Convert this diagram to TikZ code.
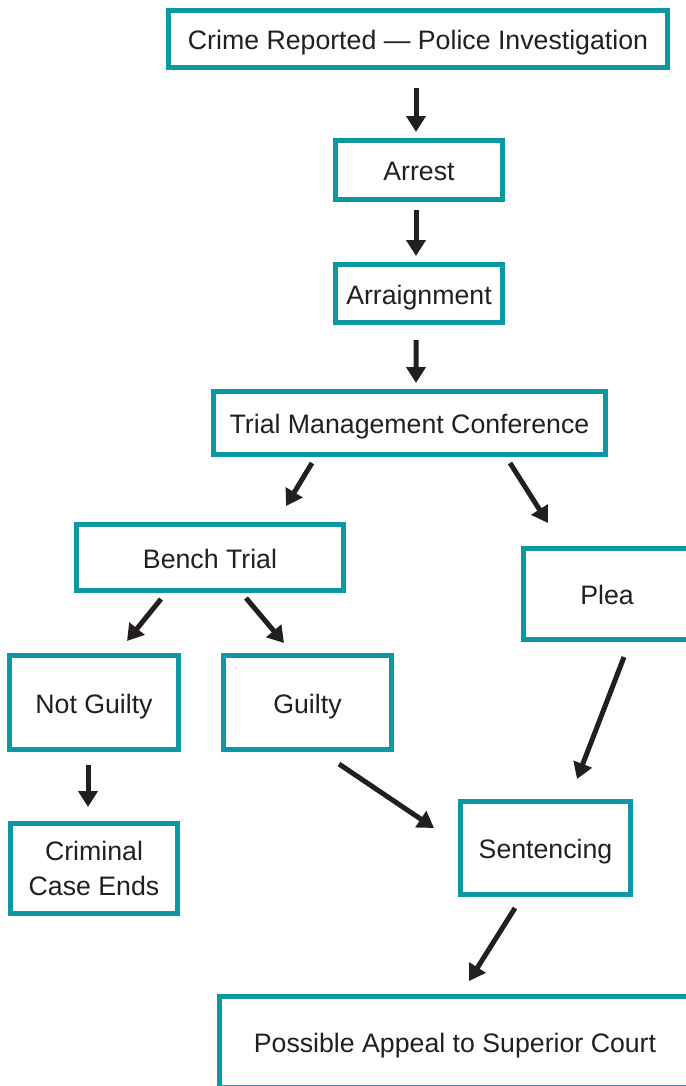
\documentclass[tikz,border=0pt]{standalone}
\usepackage{fontspec}
\setmainfont{Liberation Sans}
\usepackage{xcolor}
\usetikzlibrary{arrows.meta}
\definecolor{courtteal}{HTML}{0A99A3}
\definecolor{inkgray}{HTML}{231F20}

\begin{document}
\begin{tikzpicture}[
    x=0.02cm, y=-0.02cm,
    stage/.style={rectangle, draw=courtteal, line width=0.1cm, fill=white, text=inkgray, font=\fontsize{15.2}{19.5}\selectfont, inner sep=0pt, text height=12pt, text depth=0pt},
    flow/.style={-{Triangle[length=0.32cm,width=0.38cm]}, line width=0.1cm, draw=inkgray}
]
\useasboundingbox (0,0) rectangle (686,1086);

\node [stage, minimum width=9.98cm, minimum height=1.14cm] (crime) at (418,39) {Crime Reported --- Police Investigation};
\node [stage, minimum width=3.34cm, minimum height=1.18cm] (arrest) at (419,170) {Arrest};
\node [stage, minimum width=3.34cm, minimum height=1.16cm] (arraign) at (419,293.5) {Arraignment};
\node [stage, minimum width=7.84cm, minimum height=1.26cm] (tmc) at (409.5,423) {Trial Management Conference};
\node [stage, minimum width=5.34cm, minimum height=1.32cm] (bench) at (210,557.5) {Bench Trial};
\node [stage, minimum width=3.34cm, minimum height=1.82cm] (plea) at (607,594) {Plea};
\node [stage, minimum width=3.38cm, minimum height=1.88cm] (notguilty) at (94,702.5) {Not Guilty};
\node [stage, minimum width=3.36cm, minimum height=1.88cm] (guilty) at (307.5,702.5) {Guilty};
\node [stage, align=center, text height=, text depth=, minimum width=3.34cm, minimum height=1.80cm] (caseends) at (94,868.5) {Criminal\\Case Ends};
\node [stage, minimum width=3.40cm, minimum height=1.86cm] (sentencing) at (545.5,848) {Sentencing};
\node [stage, minimum width=9.42cm, minimum height=1.82cm] (appeal) at (455,1042) {Possible Appeal to Superior Court};

\draw [flow] ([shift={(-2,49)}]crime.center) -- ([shift={(-3,-38)}]arrest.center);
\draw [flow] ([shift={(-3,40)}]arrest.center) -- ([shift={(-3,-37.5)}]arraign.center);
\draw [flow] ([shift={(-3,46.5)}]arraign.center) -- ([shift={(6.5,-40)}]tmc.center);
\draw [flow] ([shift={(-97.5,40)}]tmc.center) -- ([shift={(76,-51.5)}]bench.center);
\draw [flow] ([shift={(100.5,40)}]tmc.center) -- ([shift={(-59,-71)}]plea.center);
\draw [flow] ([shift={(-49,41.5)}]bench.center) -- ([shift={(33,-61.5)}]notguilty.center);
\draw [flow] ([shift={(36,40.5)}]bench.center) -- ([shift={(-23.5,-59.5)}]guilty.center);
\draw [flow] ([shift={(-6,62.5)}]notguilty.center) -- ([shift={(-6,-61.5)}]caseends.center);
\draw [flow] ([shift={(31.5,61.5)}]guilty.center) -- ([shift={(-111.5,-20)}]sentencing.center);
\draw [flow] ([shift={(17,63)}]plea.center) -- ([shift={(31.5,-69)}]sentencing.center);
\draw [flow] ([shift={(-30.5,60)}]sentencing.center) -- ([shift={(14,-61)}]appeal.center);

\end{tikzpicture}
\end{document}
